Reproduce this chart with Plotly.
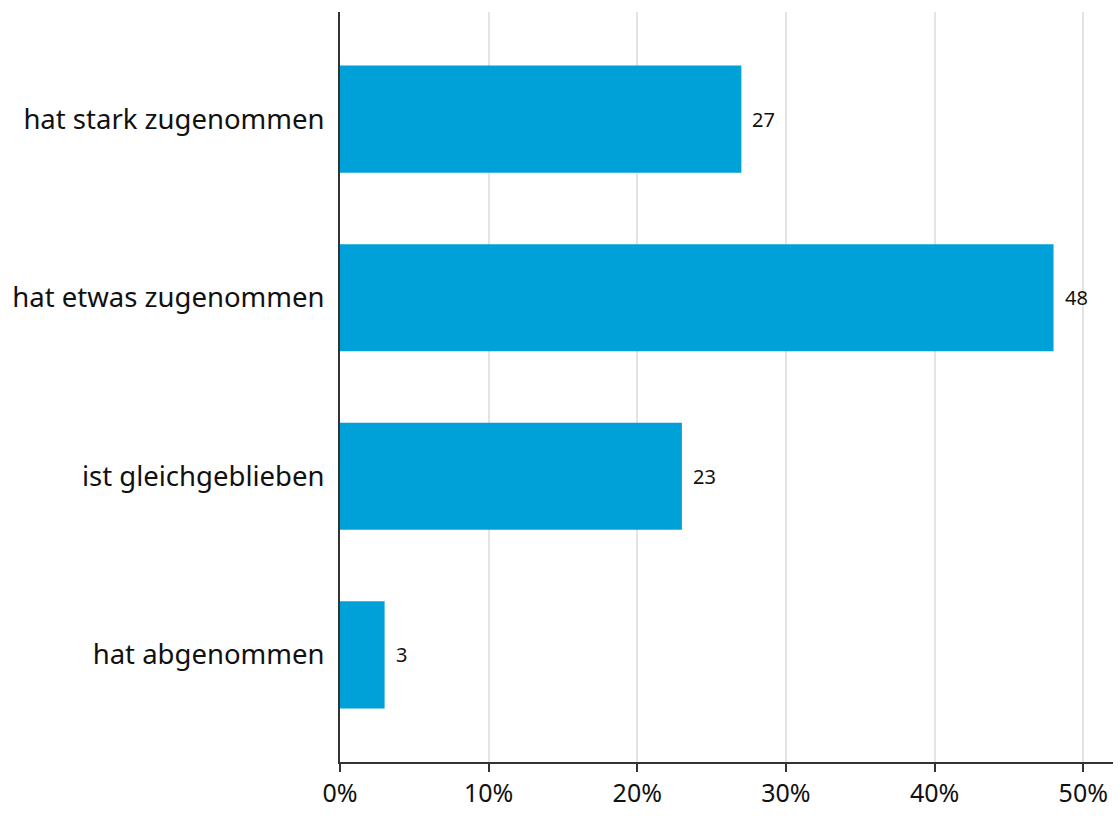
import plotly.graph_objects as go

categories = ["hat stark zugenommen", "hat etwas zugenommen", "ist gleichgeblieben", "hat abgenommen"]
values = [27, 48, 23, 3]
tick_vals = [0, 10, 20, 30, 40, 50]
tick_text = ["0%", "10%", "20%", "30%", "40%", "50%"]

FONT = "Noto Sans"

fig = go.Figure(
    go.Bar(
        x=values,
        y=categories,
        orientation="h",
        marker=dict(color="#00a0d8", line=dict(width=0)),
        width=0.6,
        hoverinfo="x+y",
    )
)

# value labels just to the right of each bar
for cat, val in zip(categories, values):
    fig.add_annotation(
        x=val,
        y=cat,
        text=str(val),
        showarrow=False,
        xanchor="left",
        xshift=9,
        font=dict(family=FONT, size=20, color="#111111"),
    )

fig.update_layout(
    width=1120,
    height=816,
    margin=dict(l=340, r=7, t=12, b=51),
    paper_bgcolor="white",
    plot_bgcolor="white",
    showlegend=False,
    font=dict(family=FONT, color="#111111"),
)

fig.update_xaxes(
    range=[0, 52],
    tickvals=tick_vals,
    ticktext=tick_text,
    tickfont=dict(family=FONT, size=25, color="#111111"),
    showgrid=True,
    gridcolor="#e3e3e3",
    gridwidth=2,
    zeroline=False,
    showline=True,
    linecolor="#333333",
    linewidth=2,
    ticks="outside",
    ticklen=8,
    tickwidth=2,
    tickcolor="#333333",
)

fig.update_yaxes(
    categoryorder="array",
    categoryarray=categories,
    autorange=False,
    range=[3.6, -0.6],
    tickfont=dict(family=FONT, size=27.5, color="#111111"),
    showgrid=False,
    zeroline=False,
    showline=True,
    linecolor="#333333",
    linewidth=2,
    ticks="",
    ticklabelstandoff=8,
)

fig.write_html("out.html")
